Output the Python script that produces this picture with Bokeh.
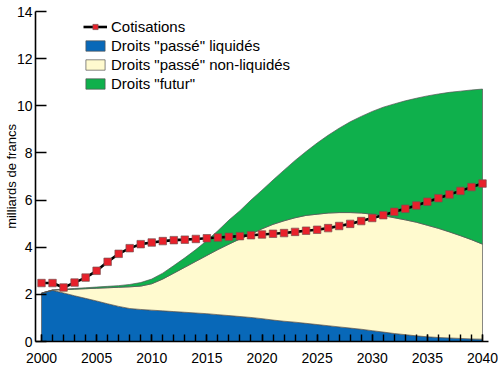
import numpy as np
from bokeh.plotting import figure
from bokeh.models import FixedTicker, Legend, LegendItem, Range1d
from bokeh.embed import file_html
from bokeh.resources import INLINE

# ---- data (milliards de francs) ----
years = list(range(2000, 2041))
tick_years = [2000, 2005, 2010, 2015, 2020, 2025, 2030, 2035, 2040]
y_ticks = [0, 2, 4, 6, 8, 10, 12, 14]

cotisations = [2.48, 2.48, 2.29, 2.50, 2.71, 3.00, 3.38, 3.72, 3.96, 4.13,
               4.20, 4.26, 4.30, 4.32, 4.35, 4.38, 4.41, 4.44, 4.47, 4.51,
               4.54, 4.57, 4.60, 4.65, 4.70, 4.74, 4.81, 4.90, 4.99, 5.11,
               5.24, 5.36, 5.50, 5.63, 5.77, 5.93, 6.08, 6.24, 6.39, 6.55,
               6.70]

passe_liquides = [2.05, 2.17, 2.06, 1.94, 1.83, 1.72, 1.60, 1.49, 1.40, 1.36,
                  1.33, 1.30, 1.27, 1.24, 1.21, 1.18, 1.14, 1.10, 1.06, 1.02,
                  0.97, 0.91, 0.86, 0.82, 0.77, 0.72, 0.67, 0.62, 0.57, 0.52,
                  0.46, 0.40, 0.34, 0.29, 0.24, 0.20, 0.17, 0.15, 0.13, 0.11,
                  0.10]

passe_non_liquides = [0.00, 0.01, 0.14, 0.28, 0.41, 0.54, 0.68, 0.81, 0.92, 0.99,
                      1.12, 1.35, 1.63, 1.91, 2.19, 2.47, 2.76, 3.03, 3.29, 3.53,
                      3.81, 4.06, 4.26, 4.43, 4.58, 4.68, 4.78, 4.85, 4.90, 4.93,
                      4.94, 4.94, 4.91, 4.87, 4.82, 4.73, 4.63, 4.50, 4.36, 4.21,
                      4.03]

futur = [0.00, 0.01, 0.02, 0.03, 0.04, 0.05, 0.06, 0.07, 0.10, 0.15,
         0.20, 0.25, 0.32, 0.40, 0.50, 0.63, 0.80, 1.02, 1.20, 1.45,
         1.64, 1.88, 2.15, 2.43, 2.71, 3.02, 3.30, 3.58, 3.85, 4.10,
         4.36, 4.60, 4.83, 5.05, 5.26, 5.49, 5.70, 5.92, 6.13, 6.35,
         6.58]

labels = ['Droits "passé" liquidés', 'Droits "passé" non-liquidés', 'Droits "futur"']
colors = ["#0868B8", "#FFFACF", "#0FB04C"]

FONT = "Liberation Sans"

p = figure(width=498, height=369, output_backend="svg", toolbar_location=None,
           x_range=Range1d(1999.456, 2040.544), y_range=Range1d(0, 14),
           min_border_left=35, min_border_right=10, min_border_top=11,
           min_border_bottom=28)
p.outline_line_color = None
p.xgrid.visible = False
p.ygrid.visible = False

# stacked areas as polygons
xs = np.array(years, dtype=float)
bottom = np.zeros(len(years))
area_renderers = []
for vals, col in zip([passe_liquides, passe_non_liquides, futur], colors):
    top = bottom + np.array(vals)
    px = np.concatenate([xs, xs[::-1]])
    py = np.concatenate([top, bottom[::-1]])
    r = p.patch(px, py, fill_color=col, line_color="#555555", line_width=0.7)
    area_renderers.append(r)
    bottom = top

line_r = p.line(years, cotisations, line_color="black", line_width=2.6)
mark_r = p.scatter(years, cotisations, marker="square", size=7.5,
                   fill_color="#E8212B", line_color="#7a5050", line_width=0.7)

items = [LegendItem(label="Cotisations", renderers=[line_r, mark_r])]
for lab, r in zip(labels, area_renderers):
    items.append(LegendItem(label=lab, renderers=[r]))
legend = Legend(items=items, location=(48, 248))
legend.padding = 0
legend.margin = 0
legend.spacing = 0
legend.border_line_color = None
legend.background_fill_alpha = 0
legend.glyph_width = 24
legend.glyph_height = 13
legend.label_height = 19
legend.label_standoff = 4
legend.label_text_font = FONT
legend.label_text_font_size = "15px"
legend.label_text_color = "black"
p.add_layout(legend)

# axes
xa = p.xaxis[0]
xa.ticker = FixedTicker(ticks=tick_years, minor_ticks=years)
xa.major_tick_in = 7
xa.major_tick_out = 0
xa.minor_tick_in = 7
xa.minor_tick_out = 0
xa.major_label_standoff = 11
xa.major_label_text_font = FONT
xa.major_label_text_font_size = "14px"
xa.major_label_text_color = "black"
xa.axis_line_width = 1.6
xa.major_tick_line_width = 1.4
xa.minor_tick_line_width = 1.4
xa.axis_line_color = "black"
xa.major_tick_line_color = "black"
xa.minor_tick_line_color = "black"

ya = p.yaxis[0]
ya.ticker = FixedTicker(ticks=y_ticks)
ya.major_tick_in = 11
ya.major_tick_out = 0
ya.minor_tick_line_color = None
ya.major_label_standoff = 3
ya.major_label_text_font = FONT
ya.major_label_text_font_size = "14px"
ya.major_label_text_color = "black"
ya.axis_label = "milliards de francs"
ya.axis_label_text_font = FONT
ya.axis_label_text_font_size = "13px"
ya.axis_label_text_font_style = "normal"
ya.axis_label_text_color = "black"
ya.axis_label_standoff = -5
ya.axis_line_width = 1.6
ya.major_tick_line_width = 1.4
ya.axis_line_color = "black"
ya.major_tick_line_color = "black"

open("out.html", "w").write(file_html(p, INLINE))
